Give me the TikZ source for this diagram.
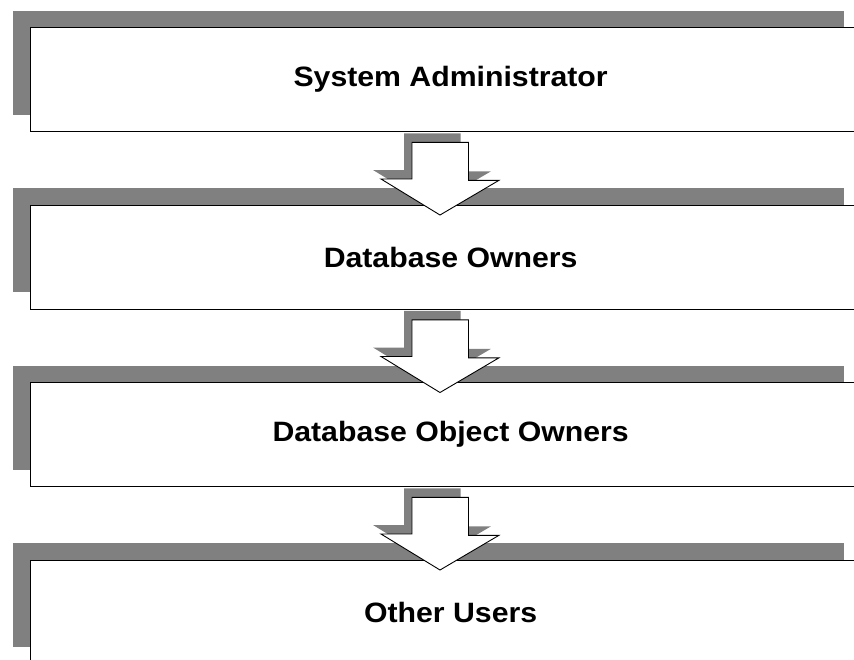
\documentclass[tikz,border=0pt]{standalone}
\usepackage{fontspec}
\setmainfont{Liberation Sans}[FakeStretch=1.08]
\usetikzlibrary{shadows,calc}
\tikzset{
  level/.style={draw, line width=1.3pt, fill=white, inner sep=0pt,
    minimum width=831pt, minimum height=104pt, anchor=north west,
    drop shadow={shadow xshift=-18pt, shadow yshift=17pt, fill=gray, opacity=1}},
  leveltext/.style={font=\fontsize{28}{34}\selectfont\bfseries},
  downarrow/.style={draw, line width=0.9pt, fill=white, line join=miter,
    drop shadow={shadow xshift=-8pt, shadow yshift=9pt, fill=gray, opacity=1}}
}
\begin{document}
\begin{tikzpicture}[x=1pt, y=-1pt]
    \useasboundingbox (0,0) rectangle (854,659);

    % the four levels
    \node[level] (b1) at (30,27) {};
    \node[level] (b2) at (30,204.5) {};
    \node[level] (b3) at (30,382) {};
    \node[level] (b4) at (30,559.5) {};

    \node[leveltext] (t1) at ($(b1.center)+(4.5,0)$) {System Administrator};
    \node[leveltext] (t2) at ($(b2.center)+(4.5,0)$) {Database Owners};
    \node[leveltext] (t3) at ($(b3.center)+(4.5,0)$) {Database Object Owners};
    \node[leveltext] (t4) at ($(b4.center)+(4.5,0)$) {Other Users};

    % block arrows between levels
    \foreach \a/\b in {b1/b2, b2/b3, b3/b4}
        \draw[downarrow] ($(\a.south west)+(382,10)$) -- ++(56.5,0) -- ++(0,38)
            -- ++(30.5,0) -- ($(\b.north west)+(410,10.5)$) -- ++(-59,-36)
            -- ++(31,0) -- cycle;
\end{tikzpicture}
\end{document}
